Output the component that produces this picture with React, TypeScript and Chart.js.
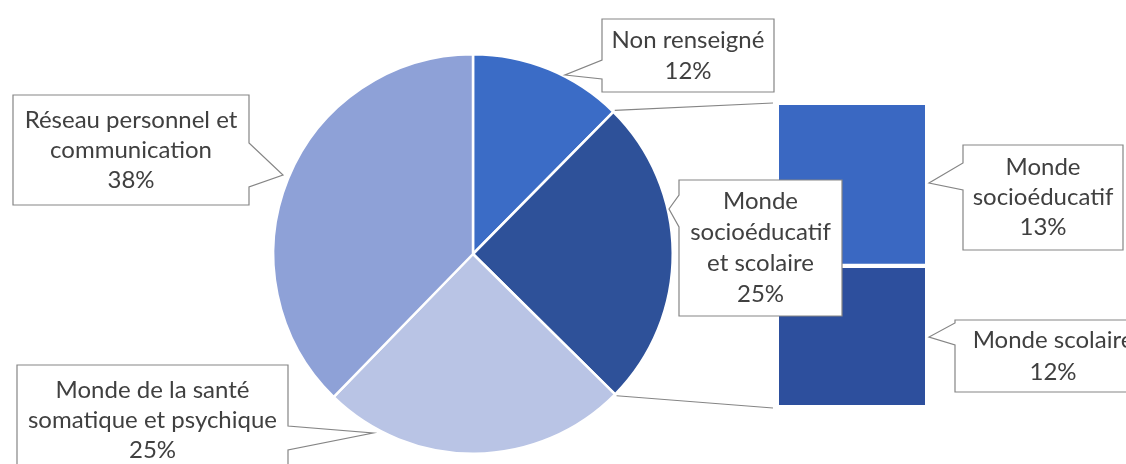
import React, { useEffect, useRef } from "react";
import { Chart, registerables } from "chart.js";

Chart.register(...registerables);

// ---- Data ----
const pieCategories = [
  "Non renseigné",
  "Monde socioéducatif et scolaire",
  "Monde de la santé somatique et psychique",
  "Réseau personnel et communication",
];
const pieValues = [12.4, 25.0, 24.9, 37.7];
const pieColors = ["#3b6cc6", "#2e5199", "#b9c4e5", "#8ea1d7"];
const pieLabelLines = [
  ["Non renseigné"],
  ["Monde", "socioéducatif", "et scolaire"],
  ["Monde de la santé", "somatique et psychique"],
  ["Réseau personnel et", "communication"],
];

const barCategories = ["Monde scolaire", "Monde socioéducatif"];
const barValues = [11.6, 13.4];
const barColors = ["#2d4f9d", "#3a68c2"];
const barLabelLines = [["Monde scolaire"], ["Monde", "socioéducatif"]];

// ---- Layout of callouts (annotation placement only) ----
type Callout = {
  x: number; y: number; w: number; h: number;
  side: "left" | "right";
  b1: number; b2: number; tx: number; ty: number; lh: number;
};
const pieCallouts: Callout[] = [
  { x: 602, y: 19, w: 172, h: 73, side: "left", b1: 60, b2: 79, tx: 565, ty: 75, lh: 31 },
  { x: 679, y: 180, w: 163, h: 136, side: "left", b1: 195, b2: 227, tx: 669, ty: 209, lh: 31 },
  { x: 17, y: 365, w: 271, h: 110, side: "right", b1: 426, b2: 450, tx: 373, ty: 433, lh: 30 },
  { x: 13, y: 95, w: 236, h: 110, side: "right", b1: 143, b2: 187, tx: 283, ty: 175, lh: 30 },
];
const barCallouts: Callout[] = [
  { x: 955, y: 320, w: 196, h: 72, side: "left", b1: 323, b2: 345, tx: 929, ty: 337, lh: 32 },
  { x: 963, y: 145, w: 160, h: 105, side: "left", b1: 163, b2: 190, tx: 929, ty: 183, lh: 30 },
];

const W = 1126;
const H = 464;
const FONT = "24px Lato";
const TEXT_COLOR = "#404040";
const BORDER_COLOR = "#858585";

function drawCallout(ctx: CanvasRenderingContext2D, c: Callout, lines: string[]) {
  ctx.save();
  ctx.beginPath();
  if (c.side === "left") {
    ctx.moveTo(c.x, c.y);
    ctx.lineTo(c.x + c.w, c.y);
    ctx.lineTo(c.x + c.w, c.y + c.h);
    ctx.lineTo(c.x, c.y + c.h);
    ctx.lineTo(c.x, c.b2);
    ctx.lineTo(c.tx, c.ty);
    ctx.lineTo(c.x, c.b1);
  } else {
    ctx.moveTo(c.x, c.y);
    ctx.lineTo(c.x + c.w, c.y);
    ctx.lineTo(c.x + c.w, c.b1);
    ctx.lineTo(c.tx, c.ty);
    ctx.lineTo(c.x + c.w, c.b2);
    ctx.lineTo(c.x + c.w, c.y + c.h);
    ctx.lineTo(c.x, c.y + c.h);
  }
  ctx.closePath();
  ctx.fillStyle = "#ffffff";
  ctx.fill();
  ctx.lineWidth = 1.2;
  ctx.strokeStyle = BORDER_COLOR;
  ctx.stroke();
  ctx.fillStyle = TEXT_COLOR;
  ctx.font = FONT;
  ctx.textAlign = "center";
  ctx.textBaseline = "middle";
  const cx = c.x + c.w / 2;
  const cy = c.y + c.h / 2;
  const n = lines.length;
  lines.forEach((t, i) => {
    ctx.fillText(t, cx, cy + (i - (n - 1) / 2) * c.lh);
  });
  ctx.restore();
}

export default function App() {
  const pieRef = useRef<HTMLCanvasElement>(null);
  const barRef = useRef<HTMLCanvasElement>(null);

  useEffect(() => {
    if (!pieRef.current || !barRef.current) return;
    const pie = new Chart(pieRef.current, {
      type: "pie",
      data: {
        labels: pieCategories,
        datasets: [
          {
            data: pieValues,
            backgroundColor: pieColors,
            borderColor: "#ffffff",
            borderWidth: 2.5,
          },
        ],
      },
      options: {
        animation: false,
        responsive: false,
        devicePixelRatio: 1,
        layout: { padding: { left: 272, right: W - 674, top: 53, bottom: H - 455 } },
        plugins: { legend: { display: false }, tooltip: { enabled: false } },
      },
    });

    const calloutPlugin = {
      id: "callouts",
      afterDraw(chart: any) {
        const ctx = chart.ctx as CanvasRenderingContext2D;
        const barMeta = chart.getDatasetMeta(0);
        const topMeta = chart.getDatasetMeta(barValues.length - 1);
        const bottomBar = barMeta.data[0] as any;
        const topBar = topMeta.data[0] as any;
        const left = bottomBar.x - bottomBar.width / 2;
        const arc = pie.getDatasetMeta(0).data[1] as any;
        const r = arc.outerRadius + 2;
        const p1 = { x: arc.x + r * Math.cos(arc.startAngle), y: arc.y + r * Math.sin(arc.startAngle) };
        const p2 = { x: arc.x + r * Math.cos(arc.endAngle), y: arc.y + r * Math.sin(arc.endAngle) };
        ctx.save();
        ctx.strokeStyle = BORDER_COLOR;
        ctx.lineWidth = 1.2;
        ctx.beginPath();
        ctx.moveTo(p1.x, p1.y);
        ctx.lineTo(left - 6, topBar.y - 2);
        ctx.moveTo(p2.x, p2.y);
        ctx.lineTo(left - 6, bottomBar.base + 3);
        ctx.stroke();
        ctx.restore();

        pieCallouts.forEach((c, i) => {
          drawCallout(ctx, c, [...pieLabelLines[i], Math.round(pieValues[i]) + "%"]);
        });
        barCallouts.forEach((c, i) => {
          drawCallout(ctx, c, [...barLabelLines[i], Math.round(barValues[i]) + "%"]);
        });
      },
    };

    const total = barValues.reduce((a, b) => a + b, 0);
    const bar = new Chart(barRef.current, {
      type: "bar",
      data: {
        labels: ["Détail"],
        datasets: barValues.map((v, i) => ({
          label: barCategories[i],
          data: [v],
          backgroundColor: barColors[i],
          borderColor: "#ffffff",
          borderWidth: i === 0 ? { top: 2.5, bottom: 0, left: 0, right: 0 } : { top: 0, bottom: 2.5, left: 0, right: 0 },
          borderSkipped: false,
          barPercentage: 1,
          categoryPercentage: 1,
        })),
      },
      options: {
        animation: false,
        responsive: false,
        devicePixelRatio: 1,
        layout: { padding: { left: 779, right: W - 925, top: 105, bottom: H - 405 } },
        scales: {
          x: { display: false, stacked: true },
          y: { display: false, stacked: true, min: 0, max: total },
        },
        plugins: { legend: { display: false }, tooltip: { enabled: false } },
      },
      plugins: [calloutPlugin],
    });

    return () => {
      bar.destroy();
      pie.destroy();
    };
  }, []);

  return (
    <div style={{ position: "absolute", left: 0, top: 0, width: W, height: H, background: "#ffffff", overflow: "hidden" }}>
      <canvas ref={pieRef} width={W} height={H} style={{ position: "absolute", left: 0, top: 0 }} />
      <canvas ref={barRef} width={W} height={H} style={{ position: "absolute", left: 0, top: 0 }} />
    </div>
  );
}
